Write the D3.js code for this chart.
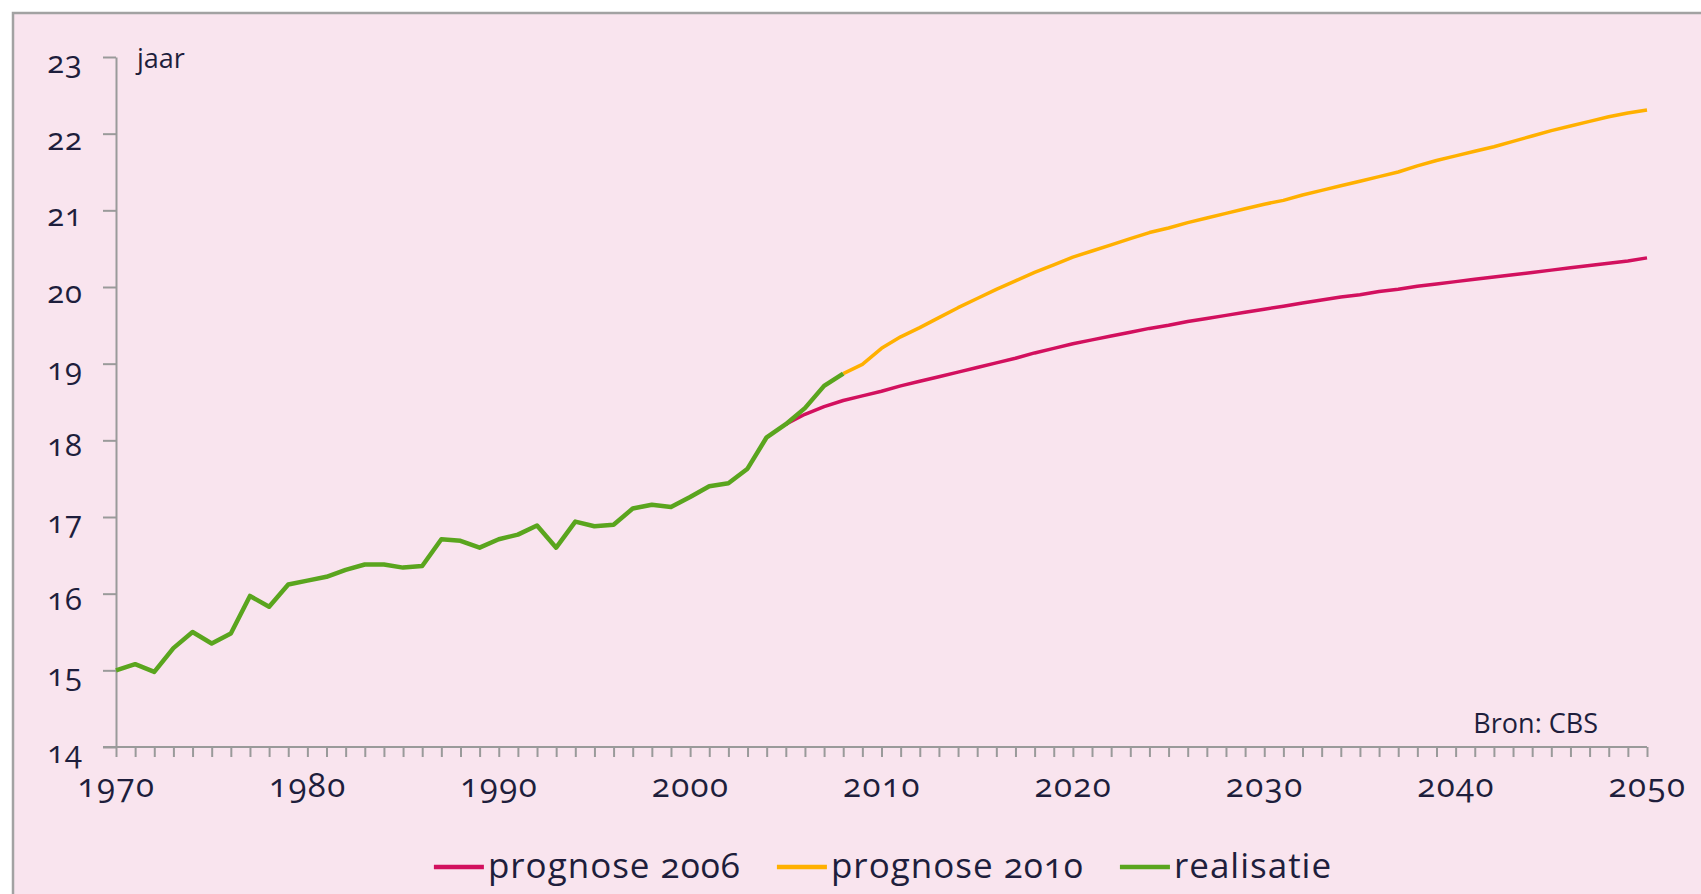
<!DOCTYPE html>
<html>
<head>
<meta charset="utf-8">
<script src="https://cdn.jsdelivr.net/npm/d3@7"></script>
<style>
  html, body { margin: 0; padding: 0; background: #ffffff; }
  svg text { font-family: "Open Sans", "Noto Sans", sans-serif; fill: #1e1e3c; font-variant-numeric: oldstyle-nums; }
</style>
</head>
<body>
<script>

var width = 1701,
    height = 894;

// realisatie 1970-2008
var realYears = d3.range(1970, 2009);
var realValues = [15.0, 15.08, 14.98, 15.29, 15.5, 15.35, 15.48, 15.97, 15.83, 16.12,
                  16.17, 16.22, 16.31, 16.38, 16.38, 16.34, 16.36, 16.71, 16.69, 16.6,
                  16.71, 16.77, 16.89, 16.6, 16.94, 16.88, 16.9, 17.11, 17.16, 17.13,
                  17.26, 17.4, 17.44, 17.63, 18.04, 18.21, 18.42, 18.71, 18.87];

// prognose 2006, 2005-2050
var prog06Years = d3.range(2005, 2051);
var prog06Values = [18.21, 18.34, 18.44, 18.52, 18.58, 18.64, 18.71, 18.77, 18.83, 18.89,
                    18.95, 19.01, 19.07, 19.14, 19.2, 19.26, 19.31, 19.36, 19.41, 19.46,
                    19.5, 19.55, 19.59, 19.63, 19.67, 19.71, 19.75, 19.79, 19.83, 19.87,
                    19.9, 19.94, 19.97, 20.01, 20.04, 20.07, 20.1, 20.13, 20.16, 20.19,
                    20.22, 20.25, 20.28, 20.31, 20.34, 20.38];

// prognose 2010, 2008-2050
var prog10Years = d3.range(2008, 2051);
var prog10Values = [18.87, 18.99, 19.2, 19.35, 19.47, 19.6, 19.73, 19.85, 19.97, 20.08,
                    20.19, 20.29, 20.39, 20.47, 20.55, 20.63, 20.71, 20.77, 20.84, 20.9,
                    20.96, 21.02, 21.08, 21.13, 21.2, 21.26, 21.32, 21.38, 21.44, 21.5,
                    21.58, 21.65, 21.71, 21.77, 21.83, 21.9, 21.97, 22.04, 22.1, 22.16,
                    22.22, 22.27, 22.31];

var yTicks = [14, 15, 16, 17, 18, 19, 20, 21, 22, 23];
var xLabelYears = [1970, 1980, 1990, 2000, 2010, 2020, 2030, 2040, 2050];

var seriesNames = ['prognose 2006', 'prognose 2010', 'realisatie'];
var colors = ['#d2105e', '#ffb000', '#5aa51e'];

var svg = d3.select('body')
    .append('svg')
    .attr('width', width)
    .attr('height', height);

// frame
svg.append('rect')
    .attr('x', 13)
    .attr('y', 13)
    .attr('width', width + 20)
    .attr('height', height + 20)
    .style('fill', '#f9e4ee')
    .style('stroke', '#a2a2a2')
    .style('stroke-width', 2.5);

var x = d3.scaleLinear()
    .domain([1970, 2050])
    .range([116, 1647]);

var y = d3.scaleLinear()
    .domain([14, 23])
    .range([747, 57]);

// y axis
var yAxis = svg.append('g')
    .attr('transform', 'translate(' + x.range()[0] + ',0)')
    .call(d3.axisLeft(y).tickValues(yTicks).tickSize(13).tickSizeOuter(0).tickFormat(d3.format('d')));

yAxis.select('.domain').style('stroke', '#9a9a9a').style('stroke-width', 2);
yAxis.selectAll('.tick line').style('stroke', '#9a9a9a').style('stroke-width', 2);
yAxis.selectAll('.tick text')
    .attr('x', -33)
    .attr('dy', '0.82em')
    .attr('y', -10)
    .style('font-size', '31px')
    .style('letter-spacing', '1px');

// x axis
var xAxis = svg.append('g')
    .attr('transform', 'translate(0,' + y.range()[0] + ')')
    .call(d3.axisBottom(x)
        .tickValues(d3.range(1970, 2051))
        .tickSize(10)
        .tickSizeOuter(0)
        .tickFormat(function(d) { return xLabelYears.indexOf(d) >= 0 ? d : ''; }));

xAxis.select('.domain').remove();
xAxis.append('line')
    .attr('x1', x.range()[0] - 13)
    .attr('x2', x.range()[1])
    .style('stroke', '#9a9a9a')
    .style('stroke-width', 2);
xAxis.selectAll('.tick line').style('stroke', '#9a9a9a').style('stroke-width', 2);
xAxis.selectAll('.tick text')
    .attr('y', 50)
    .attr('dy', 0)
    .style('font-size', '33px')
    .style('letter-spacing', '1.5px');

// labels
svg.append('text')
    .attr('x', 137)
    .attr('y', 68)
    .style('font-size', '27px')
    .text('jaar');

svg.append('text')
    .attr('x', 1598)
    .attr('y', 733)
    .attr('text-anchor', 'end')
    .style('font-size', '27px')
    .text('Bron: CBS');

// lines
var line = d3.line()
    .x(function(d) { return x(d[0]); })
    .y(function(d) { return y(d[1]); });

var series = [
    { years: prog06Years, values: prog06Values, width: 3.5 },
    { years: prog10Years, values: prog10Values, width: 3.5 },
    { years: realYears, values: realValues, width: 4.5 }
];

series.forEach(function(s, i) {
    svg.append('path')
        .datum(d3.zip(s.years, s.values))
        .attr('d', line)
        .style('fill', 'none')
        .style('stroke', colors[i])
        .style('stroke-width', s.width)
        .style('stroke-linejoin', 'round');
});

// legend
var legend = svg.append('g');
var lx = 0;
seriesNames.forEach(function(name, i) {
    var g = legend.append('g').attr('transform', 'translate(' + lx + ',0)');
    g.append('line')
        .attr('x1', 0)
        .attr('x2', 50)
        .attr('y1', -11)
        .attr('y2', -11)
        .style('stroke', colors[i])
        .style('stroke-width', 4.5);
    var t = g.append('text')
        .attr('x', 54)
        .attr('y', 0)
        .style('font-size', '35px')
        .style('letter-spacing', '1px')
        .text(name);
    lx += 54 + t.node().getComputedTextLength() + 36;
});
var legendW = lx - 36;
legend.attr('transform', 'translate(' + (883 - legendW / 2) + ',878)');

</script>
</body>
</html>
